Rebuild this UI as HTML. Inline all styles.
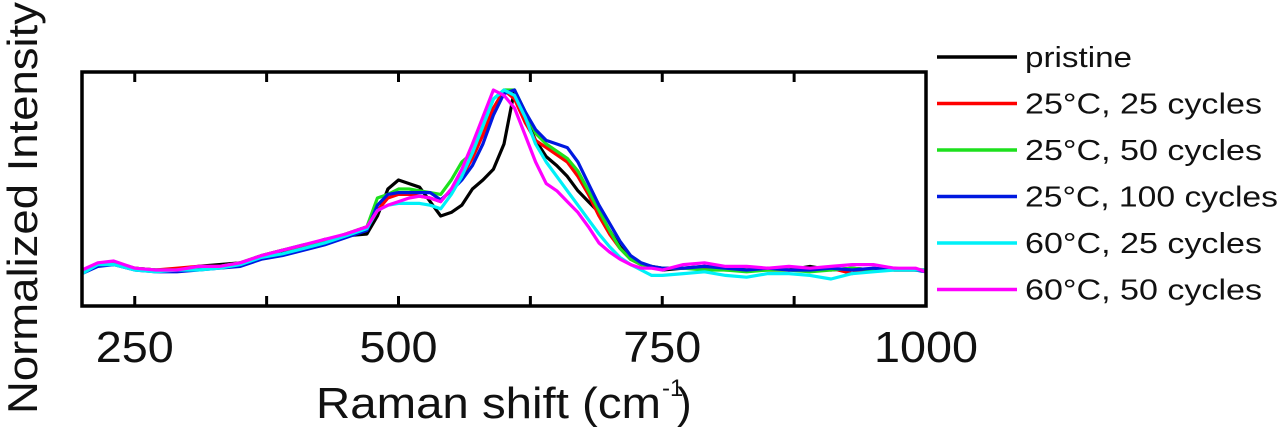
<!DOCTYPE html>
<html><head><meta charset="utf-8"><style>
body{margin:0;background:#fff;width:1280px;height:433px;overflow:hidden}
svg{font-family:"Liberation Sans",sans-serif}
</style></head><body>
<svg id="chart" width="1280" height="433" viewBox="0 0 1280 433" style="position:absolute;left:0;top:0"></svg>
<script>
const xs=[200,215,230,250,270,290,310,330,350,370,390,410,430,450,470,480,490,500,510,520,530,540,550,560,570,580,590,600,610,620,630,640,650,660,670,680,690,700,710,720,730,740,750,770,790,810,830,850,870,890,910,930,950,970,990,1000];
const pristine=[-0.02,0.03,0.04,0.01,0.0,0.0,0.02,0.03,0.04,0.07,0.1,0.13,0.17,0.19,0.2,0.3,0.45,0.5,0.48,0.46,0.38,0.3,0.32,0.36,0.45,0.5,0.56,0.7,1.0,0.85,0.72,0.63,0.58,0.52,0.44,0.38,0.32,0.22,0.13,0.06,0.03,0.02,0.0,0.01,0.02,0.01,0.0,0.0,0.0,0.02,0.0,0.01,0.0,0.01,0.0,0.0];
const c25_25=[-0.01,0.03,0.03,0.01,0.0,0.01,0.02,0.02,0.04,0.08,0.11,0.13,0.16,0.2,0.24,0.33,0.4,0.42,0.42,0.41,0.4,0.38,0.45,0.52,0.62,0.75,0.9,1.0,0.95,0.82,0.72,0.68,0.64,0.6,0.52,0.42,0.3,0.2,0.12,0.06,0.03,0.02,0.01,0.01,0.01,0.0,0.0,0.01,0.0,0.0,0.01,-0.02,0.01,0.0,0.0,0.0];
const c25_50=[-0.01,0.03,0.04,0.01,0.0,0.0,0.01,0.02,0.04,0.08,0.11,0.14,0.16,0.2,0.24,0.4,0.42,0.45,0.45,0.44,0.43,0.42,0.5,0.6,0.65,0.8,0.95,1.0,1.0,0.88,0.76,0.7,0.66,0.62,0.55,0.44,0.33,0.22,0.12,0.06,0.03,0.02,0.01,0.01,0.0,0.0,-0.01,0.0,0.0,-0.01,0.0,0.01,0.0,0.0,0.0,0.0];
const c25_100=[-0.02,0.02,0.03,0.0,-0.01,-0.01,0.0,0.01,0.02,0.06,0.08,0.11,0.14,0.18,0.22,0.36,0.42,0.43,0.43,0.43,0.43,0.39,0.44,0.5,0.58,0.7,0.86,0.98,1.0,0.88,0.78,0.72,0.7,0.68,0.6,0.48,0.36,0.26,0.16,0.08,0.04,0.02,0.01,0.01,0.02,0.01,0.0,0.01,0.0,0.0,0.01,0.0,0.01,0.0,0.0,-0.01];
const c60_25=[-0.02,0.03,0.03,0.0,-0.01,0.0,0.0,0.01,0.03,0.07,0.09,0.12,0.15,0.19,0.23,0.33,0.36,0.37,0.37,0.37,0.36,0.34,0.42,0.52,0.65,0.8,0.95,1.0,0.97,0.85,0.7,0.6,0.52,0.44,0.36,0.28,0.2,0.13,0.07,0.03,0.0,-0.03,-0.03,-0.02,-0.01,-0.03,-0.04,-0.02,-0.02,-0.03,-0.05,-0.02,-0.01,0.0,0.0,0.0];
const c60_50=[0.0,0.04,0.05,0.01,0.0,0.0,0.02,0.02,0.04,0.08,0.11,0.14,0.17,0.2,0.24,0.33,0.36,0.38,0.4,0.41,0.4,0.38,0.45,0.56,0.7,0.85,1.0,0.97,0.9,0.75,0.6,0.48,0.44,0.38,0.32,0.24,0.15,0.1,0.06,0.03,0.01,0.01,0.0,0.03,0.04,0.02,0.02,0.01,0.02,0.01,0.02,0.03,0.03,0.01,0.01,-0.01];
const seriesNames=["pristine","25\u00b0C, 25 cycles","25\u00b0C, 50 cycles","25\u00b0C, 100 cycles","60\u00b0C, 25 cycles","60\u00b0C, 50 cycles"];
const legendLens=[107,237,237,253,237,237];
const seriesVals=[pristine,c25_25,c25_50,c25_100,c60_25,c60_50];
const colors=["#000","#f00","#1de01d","#0019e0","#00f0f8","#f0f"];
const xTicks=[250,375,500,625,750,875,1000];
const xLabels=["250","","500","","750","","1000"];

const NS="http://www.w3.org/2000/svg";
const svg=document.getElementById("chart");
const L=82,R=926,T=72,B=306;
const sx=v=>L+(v-200)/800*(R-L);
const sy=v=>270-v*180;
function mk(t,a){const e=document.createElementNS(NS,t);for(const k in a)e.setAttribute(k,a[k]);svg.appendChild(e);return e;}

seriesVals.forEach((vals,i)=>{
  const d=vals.map((v,j)=>(j?"L":"M")+sx(xs[j]).toFixed(1)+","+sy(v).toFixed(1)).join("");
  const p=mk("path",{d:d,fill:"none",stroke:colors[i],"stroke-width":3.2,"stroke-linejoin":"round"});
  
  
});
const f=mk("rect",{x:L,y:T,width:R-L,height:B-T,fill:"none",stroke:"#000","stroke-width":3.5});


xTicks.forEach((t,i)=>{
  const x=sx(t);
  const a=mk("line",{x1:x,x2:x,y1:B,y2:B-10,stroke:"#000","stroke-width":3});
  
  
  const b=mk("line",{x1:x,x2:x,y1:T,y2:T+10,stroke:"#000","stroke-width":3});
  
  
  if(xLabels[i]){
    const tx=mk("text",{x:x,y:362,"font-size":44,"text-anchor":"middle",fill:"#111",textLength:xLabels[i].length*26,lengthAdjust:"spacingAndGlyphs"});
    tx.textContent=xLabels[i];
    
    
  }
});
seriesNames.forEach((n,i)=>{
  const y=57+i*46.5;
  const ln=mk("line",{x1:937,x2:1017,y1:y,y2:y,stroke:colors[i],"stroke-width":3.5});
  
  
  const t=mk("text",{x:1025,y:y+10,"font-size":29,fill:"#111",textLength:legendLens[i],lengthAdjust:"spacingAndGlyphs"});
  t.textContent=n;
  
  
});
</script>
<svg style="position:absolute;left:0;top:0" width="1280" height="433">
<text x="316" y="418" font-size="44" fill="#111" font-family="Liberation Sans, sans-serif" textLength="345" lengthAdjust="spacingAndGlyphs">Raman shift (cm</text>
<text x="662" y="396" font-size="24" fill="#111" font-family="Liberation Sans, sans-serif">-1</text>
<text x="677" y="418" font-size="44" fill="#111" font-family="Liberation Sans, sans-serif">)</text>
<text transform="translate(37,208) rotate(-90)" font-size="42" text-anchor="middle" fill="#111" font-family="Liberation Sans, sans-serif" textLength="412" lengthAdjust="spacingAndGlyphs">Normalized Intensity</text>
</svg>
</body></html>
